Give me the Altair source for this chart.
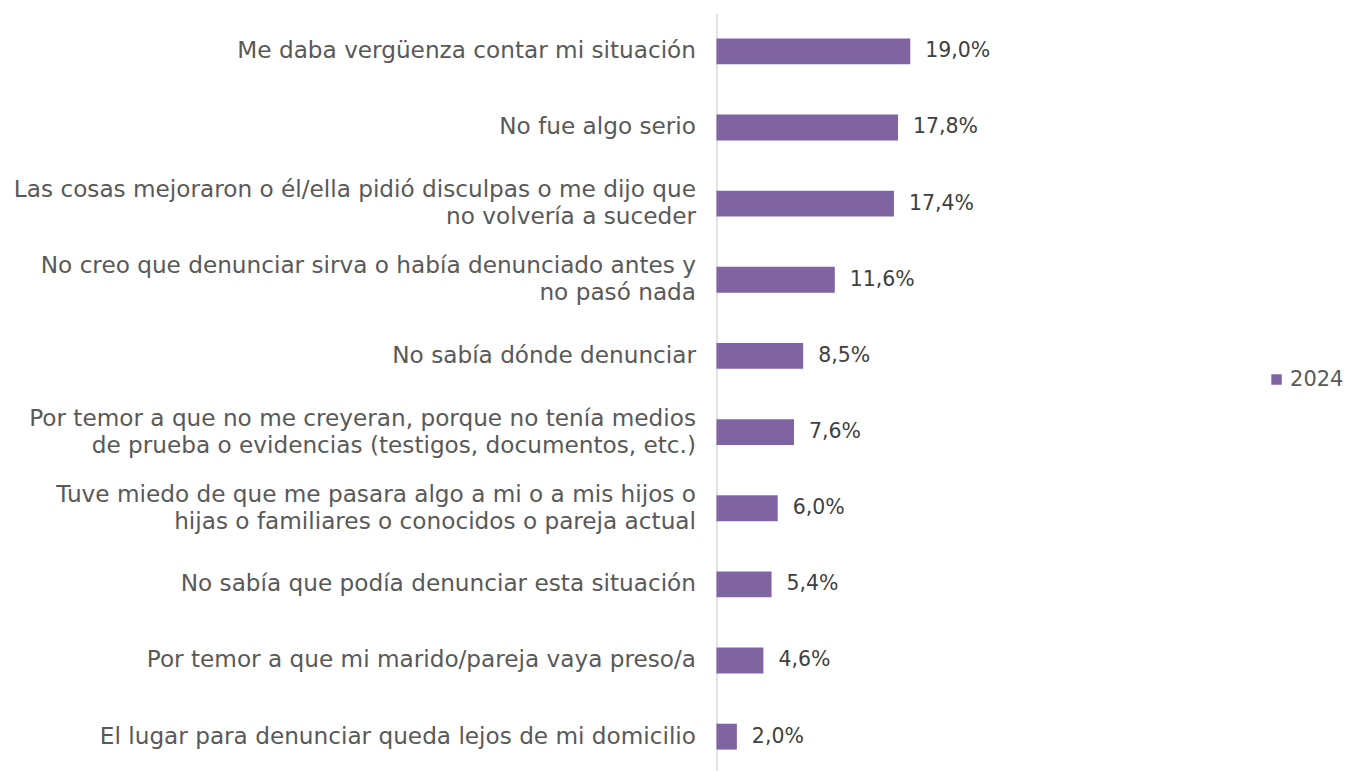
import altair as alt
import pandas as pd

categories = [
    "Me daba vergüenza contar mi situación",
    "No fue algo serio",
    "Las cosas mejoraron o él/ella pidió disculpas o me dijo que|no volvería a suceder",
    "No creo que denunciar sirva o había denunciado antes y|no pasó nada",
    "No sabía dónde denunciar",
    "Por temor a que no me creyeran, porque no tenía medios|de prueba o evidencias (testigos, documentos, etc.)",
    "Tuve miedo de que me pasara algo a mi o a mis hijos o|hijas o familiares o conocidos o pareja actual",
    "No sabía que podía denunciar esta situación",
    "Por temor a que mi marido/pareja vaya preso/a",
    "El lugar para denunciar queda lejos de mi domicilio",
]
values = [19.0, 17.8, 17.4, 11.6, 8.5, 7.6, 6.0, 5.4, 4.6, 2.0]
series = ["2024"] * len(values)

df = pd.DataFrame({"cat": categories, "val": values, "serie": series})
df["label"] = [f"{v:.1f}".replace(".", ",") + "%" for v in values]

FONT = "DejaVu Sans"
PURPLE = "#8064A2"

y = alt.Y(
    "cat:N",
    sort=None,
    scale=alt.Scale(paddingInner=0.66, paddingOuter=0.33),
    axis=alt.Axis(
        title=None,
        ticks=False,
        grid=False,
        domainColor="#D9D9D9",
        domainWidth=1.5,
        labelExpr="split(datum.label, '|')",
        labelFont=FONT,
        labelFontSize=23.2,
        labelColor="#595959",
        labelPadding=21,
        labelLimit=0,
        labelLineHeight=27,
        labelOffset={"condition": {"test": "indexof(datum.value, '|') >= 0", "value": -13.5}, "value": 0},
    ),
)
x = alt.X("val:Q", scale=alt.Scale(domain=[0, 52.9]), axis=None)

bars = alt.Chart(df).mark_bar().encode(
    x=x,
    y=y,
    color=alt.Color(
        "serie:N",
        scale=alt.Scale(range=[PURPLE]),
        legend=alt.Legend(
            title=None,
            orient="none",
            legendX=550,
            legendY=356,
            symbolType="square",
            symbolSize=110,
            symbolStrokeWidth=0,
            labelFont=FONT,
            labelFontSize=21,
            labelColor="#595959",
            labelOffset=3,
        ),
    ),
)

text = alt.Chart(df).mark_text(
    align="left", baseline="middle", dx=15, font=FONT, fontSize=20.5, color="#404040"
).encode(x=x, y=y, text="label:N")

chart = (
    alt.layer(bars, text)
    .properties(width=540, height=762, padding={"left": 5, "top": 5, "right": 0, "bottom": 0})
    .configure_view(stroke=None)
)

chart.save("out.html", embed_options={"renderer": "svg", "actions": False})
